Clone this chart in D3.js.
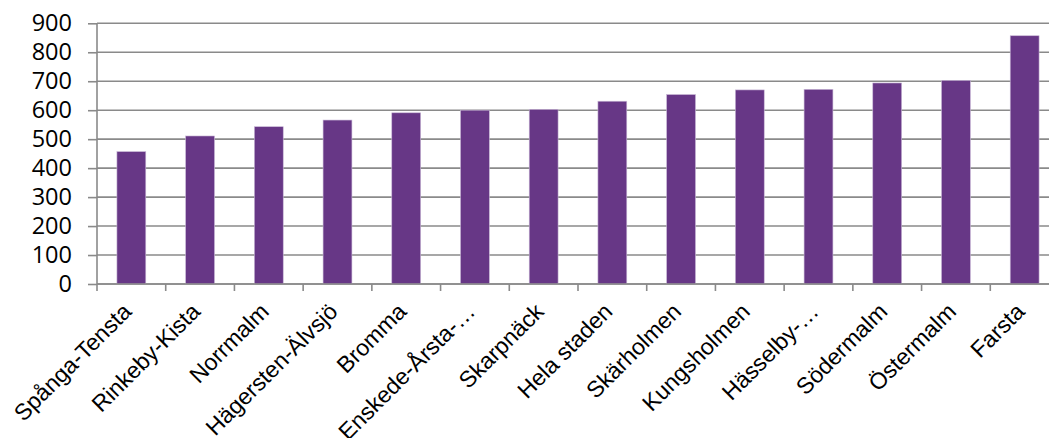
<!DOCTYPE html>
<html><head><meta charset="utf-8">
<script src="https://cdn.jsdelivr.net/npm/d3@7"></script>
<style>body{margin:0;background:#fff;}svg{display:block;} .xl{font-family:"Liberation Sans", Arial, Arimo, sans-serif;}</style>
</head><body>
<svg id="c" width="1049" height="438"></svg>
<script>
const categories = ["Spånga-Tensta","Rinkeby-Kista","Norrmalm","Hägersten-Älvsjö","Bromma","Enskede-Årsta-…","Skarpnäck","Hela staden","Skärholmen","Kungsholmen","Hässelby-…","Södermalm","Östermalm","Farsta"];
const values = [457, 511, 543, 566, 591, 600, 603, 631, 654, 670, 672, 694, 703, 857];
const yTicks = [0,100,200,300,400,500,600,700,800,900];

const svg = d3.select("#c");
const pLeft = 97, pRight = 1059, pTop = 23.3, pBottom = 284;
const x = d3.scaleBand().domain(categories).range([pLeft, pRight]).paddingInner(0.58).paddingOuter(0.29);
const y = d3.scaleLinear().domain([0, 900]).range([pBottom, pTop]);
const gridColor = "#8a8a8a";

// gridlines
svg.append("g").selectAll("line").data(yTicks).join("line")
  .attr("x1", pLeft).attr("x2", pRight)
  .attr("y1", d => y(d)).attr("y2", d => y(d))
  .attr("stroke", gridColor).attr("stroke-width", 1.6);

// bars
svg.append("g").selectAll("rect").data(values).join("rect")
  .attr("x", (d,i) => x(categories[i]))
  .attr("width", x.bandwidth())
  .attr("y", d => y(d))
  .attr("height", d => y(0) - y(d))
  .attr("fill", "#673786")
  .attr("stroke", "#c9b8d6").attr("stroke-width", 0.6);

// y axis
const yAxis = svg.append("g").attr("transform", `translate(${pLeft},0)`)
  .call(d3.axisLeft(y).tickValues(yTicks).tickSize(9).tickPadding(16).tickFormat(d3.format("d")));
yAxis.select(".domain").attr("stroke", gridColor).attr("stroke-width", 1.6).attr("d", `M0,${pTop}V${pBottom}`);
yAxis.selectAll(".tick line").attr("stroke", gridColor).attr("stroke-width", 1.6);
yAxis.selectAll(".tick text").style("font-family", "'Open Sans', sans-serif").style("font-size", "23.5px").attr("fill", "#000");

// x axis
const step = x.step();
const boundaries = d3.range(categories.length + 1).map(i => pLeft + i * step);
svg.append("g").selectAll("line").data(boundaries).join("line")
  .attr("x1", d => d).attr("x2", d => d)
  .attr("y1", pBottom).attr("y2", pBottom + 7)
  .attr("stroke", gridColor).attr("stroke-width", 1.6);
svg.append("line").attr("x1", pLeft).attr("x2", pRight).attr("y1", pBottom).attr("y2", pBottom)
  .attr("stroke", gridColor).attr("stroke-width", 1.6);

svg.append("g").selectAll("text").data(categories).join("text")
  .attr("class", "xl")
  .attr("transform", d => `translate(${x(d) + x.bandwidth()/2 + 1.5},${pBottom + 29}) rotate(-45)`)
  .attr("text-anchor", "end")
  .style("font-size", "23px")
  .attr("fill", "#000")
  .text(d => d);
</script>
</body></html>
